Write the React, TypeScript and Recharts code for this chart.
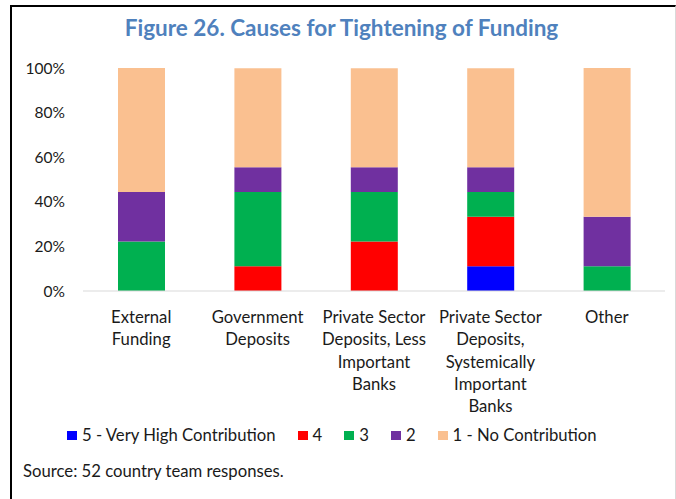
import { Bar, BarChart, XAxis, YAxis } from 'recharts'

const categories = [
  'External\nFunding',
  'Government\nDeposits',
  'Private Sector\nDeposits, Less\nImportant\nBanks',
  'Private Sector\nDeposits,\nSystemically\nImportant\nBanks',
  'Other',
]

// share of responses (%) by contribution level
const level5 = [0, 0, 0, 11.1, 0]
const level4 = [0, 11.1, 22.2, 22.2, 0]
const level3 = [22.2, 33.3, 22.2, 11.1, 11.1]
const level2 = [22.2, 11.1, 11.1, 11.1, 22.2]
const level1 = [55.6, 44.4, 44.4, 44.4, 66.7]

const yTicks = [0, 20, 40, 60, 80, 100]

const series = [
  { key: 'v5', name: '5 - Very High Contribution', color: '#0000FF', values: level5 },
  { key: 'v4', name: '4', color: '#FF0000', values: level4 },
  { key: 'v3', name: '3', color: '#00B050', values: level3 },
  { key: 'v2', name: '2', color: '#7030A0', values: level2 },
  { key: 'v1', name: '1 - No Contribution', color: '#FAC090', values: level1 },
]

const data = categories.map((name, i) => {
  const row: Record<string, string | number> = { name }
  series.forEach((s) => {
    row[s.key] = s.values[i]
  })
  return row
})

const FONT = 'Lato, "Open Sans", sans-serif'
const TEXT = '#1a1a1a'

function CategoryTick({ x, y, payload }: any) {
  const lines = String(payload.value).split('\n')
  return (
    <text x={x} y={y} textAnchor="middle" fontFamily={FONT} fontSize={16.7} fill={TEXT}>
      {lines.map((line, i) => (
        <tspan key={i} x={x} dy={i === 0 ? 24 : 22.3}>
          {line}
        </tspan>
      ))}
    </text>
  )
}

export default function App() {
  return (
    <div
      style={{
        position: 'absolute',
        left: 0,
        top: 0,
        width: 676,
        height: 499,
        background: '#fff',
        fontFamily: FONT,
        overflow: 'hidden',
      }}
    >
      <div
        style={{
          position: 'absolute',
          left: 10,
          top: 5,
          width: 663,
          height: 500,
          borderLeft: '2px solid #000',
          borderTop: '2px solid #000',
          borderRight: '1px solid #d9d9d9',
        }}
      />
      <div
        style={{
          position: 'absolute',
          left: 0,
          width: 683,
          top: 14,
          textAlign: 'center',
          fontSize: 22.5,
          fontWeight: 700,
          color: '#4F81BD',
        }}
      >
        Figure 26. Causes for Tightening of Funding
      </div>
      <div style={{ position: 'absolute', left: 0, top: 0 }}>
        <BarChart
          width={676}
          height={499}
          data={data}
          margin={{ top: 68, right: 11, bottom: 78, left: 0 }}
        >
          <XAxis
            dataKey="name"
            axisLine={{ stroke: '#d9d9d9' }}
            tickLine={false}
            interval={0}
            height={130}
            tick={<CategoryTick />}
          />
          <YAxis
            width={83}
            domain={[0, 100]}
            ticks={yTicks}
            tickFormatter={(v) => `${v}%`}
            axisLine={false}
            tickLine={false}
            tickSize={0}
            tickMargin={18}
            tick={{ fontFamily: FONT, fontSize: 15.5, fill: TEXT }}
          />
          {series.map((s) => (
            <Bar
              key={s.key}
              dataKey={s.key}
              name={s.name}
              stackId="a"
              fill={s.color}
              barSize={47}
              isAnimationActive={false}
            />
          ))}
        </BarChart>
      </div>
      <div
        style={{
          position: 'absolute',
          left: 67,
          top: 424,
          height: 22,
          display: 'flex',
          alignItems: 'center',
          fontSize: 16.7,
          color: TEXT,
        }}
      >
        {series.map((s) => (
          <div key={s.key} style={{ display: 'flex', alignItems: 'center', marginRight: 22 }}>
            <span style={{ width: 10, height: 9, background: s.color, marginRight: 5 }} />
            <span>{s.name}</span>
          </div>
        ))}
      </div>
      <div style={{ position: 'absolute', left: 23, top: 461, fontSize: 16.7, color: TEXT }}>
        Source: 52 country team responses.
      </div>
    </div>
  )
}
